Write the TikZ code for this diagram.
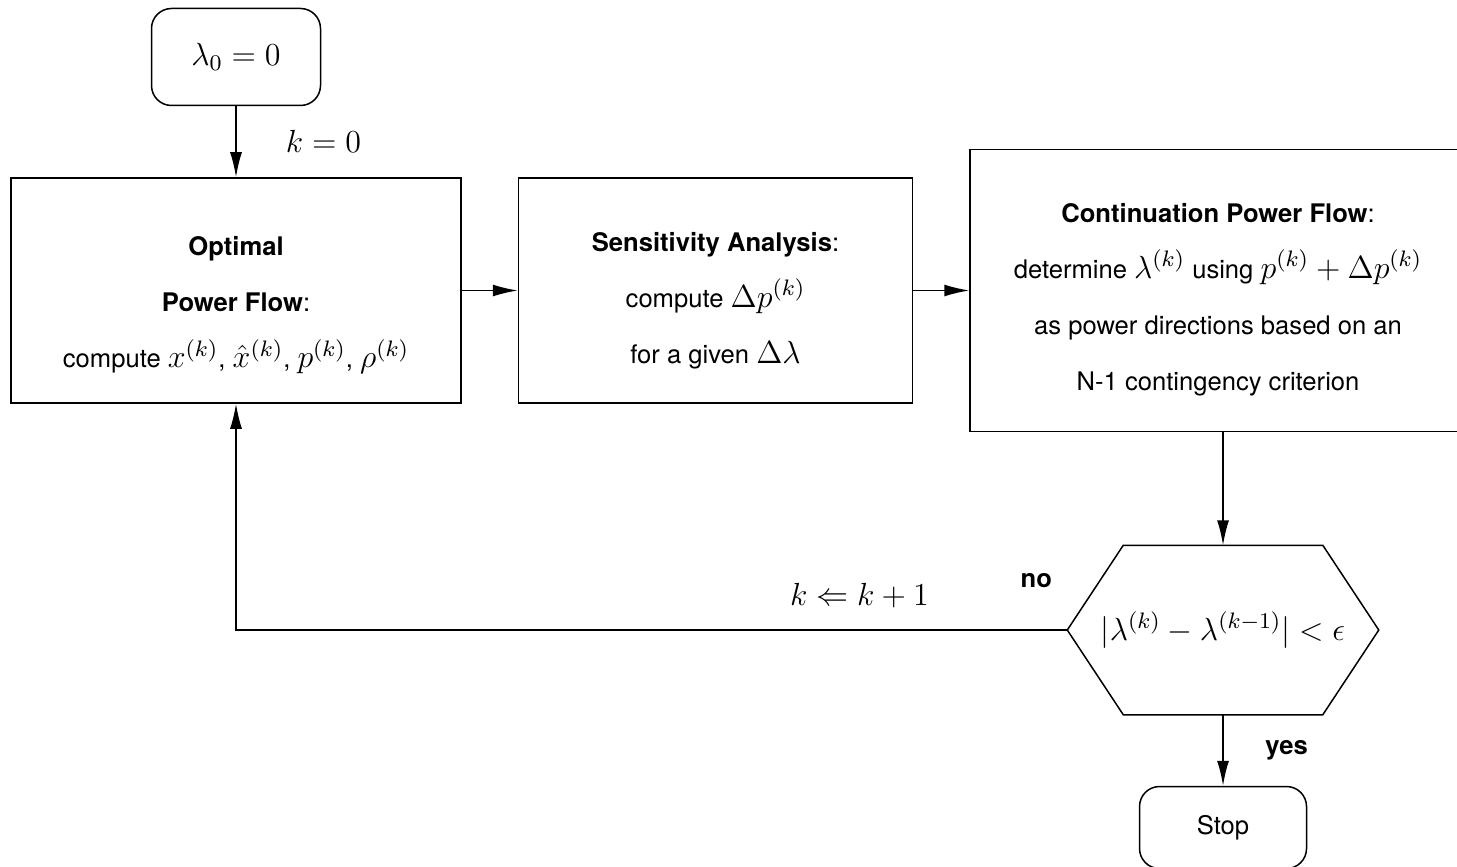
\RequirePackage{fix-cm}
\documentclass[tikz,border=0pt]{standalone}
\usepackage{amsmath}
\usepackage[no-math]{fontspec}
\setmainfont{TeX Gyre Heros}[Scale=0.8]
\usetikzlibrary{arrows.meta,positioning}

\begin{document}
\begin{tikzpicture}[x=0.4pt, y=-0.4pt, line width=0.6pt, every node/.style={align=center},
  font=\fontsize{12.8}{22.4}\selectfont, >={Latex[length=10pt,width=4.8pt]},
  block/.style={draw, minimum height=90pt},
  term/.style={draw, rounded corners=8pt}]
\useasboundingbox (0,0) rectangle (1457,866);
\node (opf) [block, minimum width=180pt] at (236,290.5) {};
\node (sa) [block, minimum width=157.6pt, right=22.4pt of opf] {};
\node (cpf) [block, minimum width=202.4pt, minimum height=112.8pt, right=22.4pt of sa] {};
\node (opftxt) at ([yshift=-6pt]opf.center) {\textbf{Optimal}\\\textbf{Power Flow}:\\compute $x^{(k)}$, $\hat{x}^{(k)}$, $p^{(k)}$, $\rho^{(k)}$};
\node (satxt) at ([yshift=-4pt]sa.center) {\textbf{Sensitivity Analysis}:\\compute $\Delta p^{(k)}$\\for a given $\Delta\lambda$};
\node (cpftxt) at ([xshift=-2pt,yshift=-3.6pt]cpf.center) {\textbf{Continuation Power Flow}:\\determine $\lambda^{(k)}$ using $p^{(k)}+\Delta p^{(k)}$\\as power directions based on an\\N-1 contingency criterion};
\node (start) [term, minimum width=67.6pt, minimum height=38.8pt, above=28.4pt of opf] {$\lambda_0=0$};
\node (conv) [minimum width=124pt, minimum height=67.2pt, below=45.2pt of cpf] {$|\lambda^{(k)}-\lambda^{(k-1)}|<\epsilon$};
\draw (conv.west) -- ([xshift=22.4pt]conv.north west) -- ([xshift=-22.4pt]conv.north east) -- (conv.east)
  -- ([xshift=-22.4pt]conv.south east) -- ([xshift=22.4pt]conv.south west) -- cycle;
\node (stop) [term, minimum width=66.8pt, minimum height=32.8pt, below=28.4pt of conv] {Stop};
\node (no) at ([xshift=-12.4pt,yshift=19.6pt]conv.west) {\textbf{no}};
\draw[->] (start) -- node[right=17pt] {$k=0$} (opf);
\draw[->] (opf) -- (sa);
\draw[->] (sa) -- (cpf);
\draw[->] (cpf) -- (conv);
\draw[->] (conv) -- node[right=14pt] {\textbf{yes}} (stop);
\draw[->] (conv.west) -- node[pos=0.25, above=5.7pt] {$k\Leftarrow k+1$} (opf.south |- conv.west) -- (opf.south);
\end{tikzpicture}
\end{document}
